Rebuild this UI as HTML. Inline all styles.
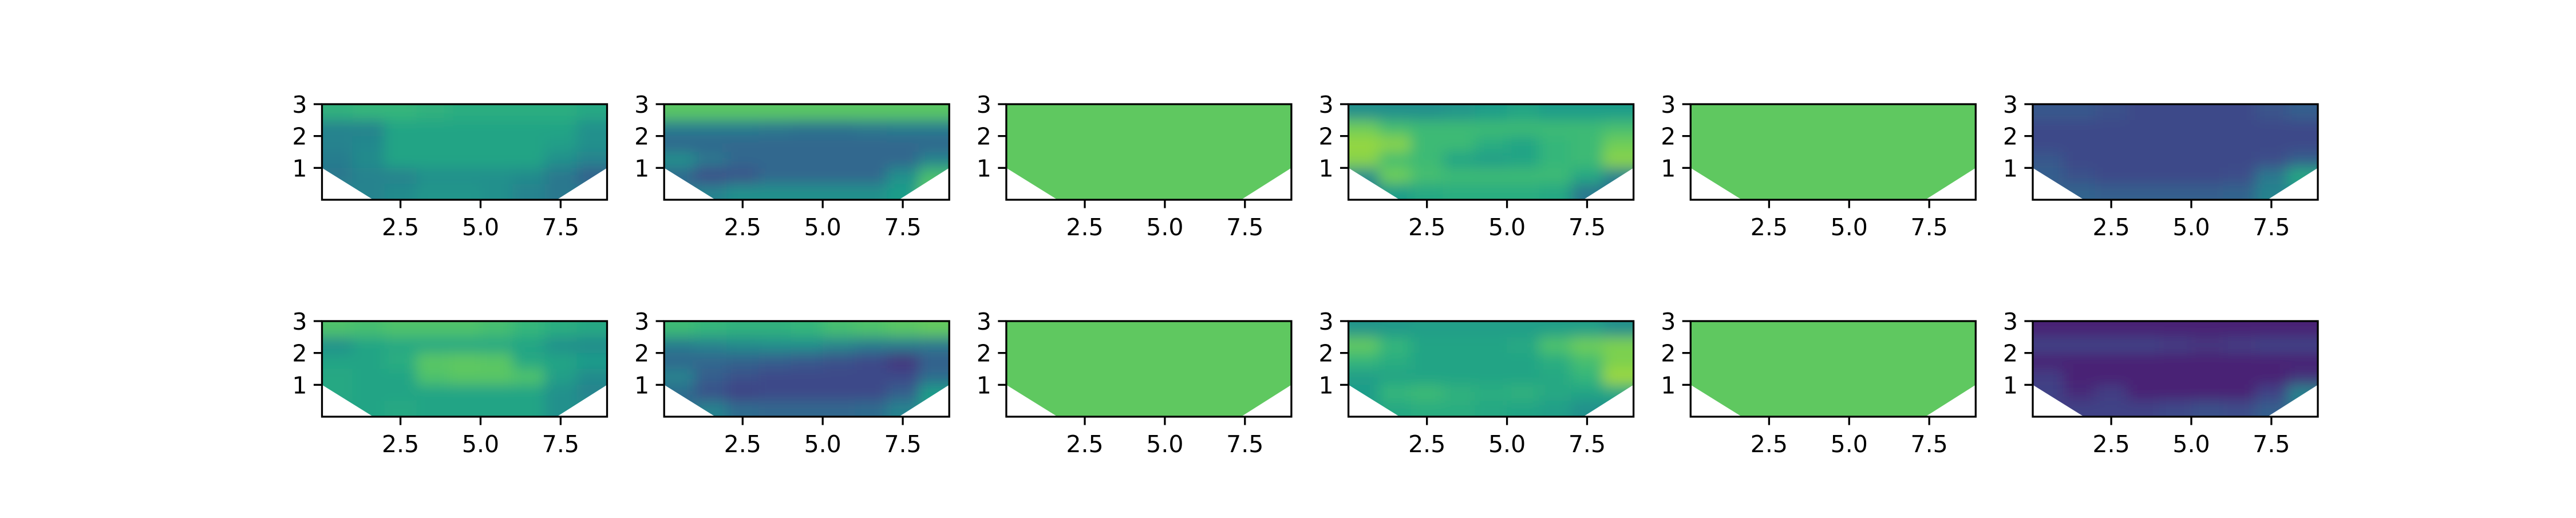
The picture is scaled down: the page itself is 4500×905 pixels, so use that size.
<!DOCTYPE html>
<html><head><meta charset="utf-8"><style>
html,body{margin:0;padding:0;background:#fff;}
svg text{font-family:"DejaVu Sans","Liberation Sans",sans-serif;font-size:41px;fill:#000;}
</style></head><body>
<svg id="fig" width="4500" height="900" xmlns="http://www.w3.org/2000/svg">
<defs><filter id="blur" x="-10%" y="-20%" width="120%" height="140%"><feGaussianBlur stdDeviation="12"/></filter></defs>
</svg>
<script>
// data: per-panel grids, rows top (y=3) to bottom (y=0), 9 cols from x=0 to x=9; values 0..1 on viridis
const xTicks = [2.5, 5.0, 7.5];
const xTickLabels = ["2.5", "5.0", "7.5"];
const yTicks = [1, 2, 3];
const yTickLabels = ["1", "2", "3"];
const xDomain = [0.05, 8.95];
const yDomain = [0, 3];
const boundaryX = [0.05, 1.65, 7.38, 8.95];
const boundaryY = [1, 0, 0, 1];
const panel1 = [
[0.64,0.66,0.66,0.64,0.62,0.62,0.62,0.62,0.6],
[0.45,0.45,0.58,0.58,0.58,0.58,0.58,0.58,0.5],
[0.45,0.47,0.58,0.58,0.58,0.58,0.58,0.56,0.5],
[0.42,0.48,0.58,0.58,0.58,0.58,0.58,0.5,0.45],
[0.4,0.45,0.45,0.5,0.5,0.5,0.48,0.4,0.3],
[0.45,0.45,0.48,0.52,0.52,0.5,0.45,0.4,0.4]];
const panel2 = [
[0.74,0.74,0.74,0.74,0.74,0.74,0.74,0.74,0.74],
[0.42,0.42,0.42,0.4,0.38,0.38,0.4,0.42,0.42],
[0.33,0.33,0.33,0.33,0.33,0.33,0.33,0.33,0.33],
[0.5,0.4,0.33,0.33,0.33,0.33,0.33,0.33,0.45],
[0.33,0.24,0.26,0.33,0.33,0.33,0.33,0.5,0.7],
[0.4,0.45,0.5,0.5,0.5,0.5,0.5,0.55,0.75]];
const panel3 = [
[0.75,0.75,0.75,0.75,0.75,0.75,0.75,0.75,0.75],
[0.75,0.75,0.75,0.75,0.75,0.75,0.75,0.75,0.75],
[0.75,0.75,0.75,0.75,0.75,0.75,0.75,0.75,0.75],
[0.75,0.75,0.75,0.75,0.75,0.75,0.75,0.75,0.75],
[0.75,0.75,0.75,0.75,0.75,0.75,0.75,0.75,0.75],
[0.75,0.75,0.75,0.75,0.75,0.75,0.75,0.75,0.75]];
const panel4 = [
[0.5,0.5,0.5,0.52,0.55,0.58,0.55,0.55,0.55],
[0.78,0.7,0.68,0.68,0.68,0.68,0.68,0.68,0.7],
[0.84,0.82,0.68,0.68,0.62,0.58,0.66,0.68,0.78],
[0.82,0.7,0.68,0.58,0.56,0.58,0.66,0.68,0.82],
[0.5,0.78,0.7,0.68,0.68,0.68,0.68,0.6,0.45],
[0.4,0.55,0.6,0.62,0.62,0.62,0.6,0.4,0.35]];
const panel5 = panel3;
const panel6 = [
[0.28,0.28,0.25,0.22,0.22,0.22,0.22,0.26,0.3],
[0.22,0.22,0.22,0.22,0.22,0.22,0.22,0.22,0.22],
[0.22,0.22,0.22,0.22,0.22,0.22,0.22,0.22,0.22],
[0.28,0.22,0.22,0.22,0.22,0.22,0.22,0.24,0.3],
[0.3,0.25,0.22,0.22,0.22,0.22,0.24,0.4,0.6],
[0.3,0.32,0.3,0.3,0.3,0.3,0.32,0.45,0.5]];
const panel7 = [
[0.72,0.7,0.72,0.72,0.72,0.7,0.66,0.62,0.6],
[0.5,0.58,0.6,0.6,0.6,0.6,0.58,0.5,0.48],
[0.58,0.58,0.62,0.74,0.75,0.74,0.6,0.58,0.55],
[0.6,0.58,0.58,0.72,0.74,0.74,0.72,0.56,0.48],
[0.6,0.58,0.58,0.58,0.58,0.58,0.58,0.5,0.45],
[0.58,0.58,0.6,0.58,0.58,0.58,0.58,0.5,0.5]];
const panel8 = [
[0.68,0.66,0.64,0.64,0.66,0.7,0.72,0.74,0.76],
[0.42,0.45,0.48,0.5,0.5,0.46,0.42,0.42,0.4],
[0.33,0.33,0.32,0.3,0.28,0.25,0.22,0.15,0.3],
[0.45,0.3,0.25,0.22,0.22,0.22,0.22,0.22,0.35],
[0.35,0.25,0.2,0.22,0.22,0.22,0.22,0.3,0.55],
[0.35,0.45,0.35,0.33,0.33,0.33,0.35,0.45,0.55]];
const panel9 = panel3;
const panel10 = [
[0.52,0.54,0.56,0.56,0.56,0.56,0.56,0.56,0.5],
[0.76,0.66,0.58,0.58,0.58,0.6,0.72,0.78,0.8],
[0.66,0.62,0.58,0.58,0.58,0.58,0.62,0.7,0.8],
[0.56,0.58,0.58,0.58,0.58,0.58,0.6,0.66,0.85],
[0.55,0.66,0.68,0.64,0.62,0.64,0.6,0.58,0.6],
[0.55,0.6,0.62,0.62,0.6,0.58,0.56,0.5,0.5]];
const panel11 = panel3;
const panel12 = [
[0.1,0.1,0.1,0.1,0.1,0.1,0.1,0.1,0.1],
[0.2,0.2,0.2,0.2,0.18,0.16,0.18,0.2,0.2],
[0.1,0.1,0.1,0.1,0.1,0.1,0.1,0.1,0.1],
[0.18,0.1,0.1,0.1,0.1,0.1,0.1,0.1,0.14],
[0.2,0.12,0.18,0.1,0.1,0.1,0.1,0.2,0.45],
[0.2,0.2,0.2,0.2,0.22,0.25,0.24,0.3,0.4]];
const panels = [panel1,panel2,panel3,panel4,panel5,panel6,panel7,panel8,panel9,panel10,panel11,panel12];

const VIR = [[68,1,84],[72,40,120],[62,73,137],[49,104,142],[38,130,142],[31,158,137],[53,183,121],[109,205,89],[180,222,44],[253,231,37]];
function viridis(v){
  v=Math.max(0,Math.min(1,v));
  const p=v*(VIR.length-1), i=Math.min(VIR.length-2,Math.floor(p)), f=p-i;
  const c=VIR[i].map((a,k)=>Math.round(a+(VIR[i+1][k]-a)*f));
  return `rgb(${c[0]},${c[1]},${c[2]})`;
}
const NS="http://www.w3.org/2000/svg";
const svg=document.getElementById('fig');
function mk(tag,attrs,parent){const e=document.createElementNS(NS,tag);for(const k in attrs)e.setAttribute(k,attrs[k]);parent.appendChild(e);return e;}
const W=498, lefts=[562.5,1160.2,1757.9,2355.6,2953.3,3551], tops=[182,561], H=167;

panels.forEach((grid,pi)=>{
  const L=lefts[pi%6], T=tops[Math.floor(pi/6)];
  const sx=x=>L+(x-xDomain[0])/(xDomain[1]-xDomain[0])*W;
  const sy=y=>T+H-(y-yDomain[0])/(yDomain[1]-yDomain[0])*H;
  const g=mk('g',{},svg);
  
  
  const cid='clip'+pi;
  const cp=mk('clipPath',{id:cid},g);
  const pts=[[sx(xDomain[0]),sy(3)],[sx(xDomain[1]),sy(3)]];
  for(let k=boundaryX.length-1;k>=0;k--) pts.push([sx(boundaryX[k]),sy(boundaryY[k])]);
  mk('polygon',{points:pts.map(p=>p.join(',')).join(' ')},cp);
  const clipG=mk('g',{'clip-path':`url(#${cid})`},g);
  const blurG=mk('g',{filter:'url(#blur)'},clipG);
  const rows=grid.length, cols=grid[0].length;
  grid.forEach((row,r)=>row.forEach((v,c)=>{
    const x0=c*9/cols, x1=(c+1)*9/cols, y1=3-r*3/rows, y0=3-(r+1)*3/rows;
    let px0=sx(x0), px1=sx(x1), py0=sy(y1), py1=sy(y0);
    if(c===0)px0-=40; if(c===cols-1)px1+=40; if(r===0)py0-=40; if(r===rows-1)py1+=40;
    const cell=mk('rect',{x:px0,y:py0,width:px1-px0+1,height:py1-py0+1,fill:viridis(v)},blurG);
    
    
  }));
  const frame=mk('rect',{x:L,y:T,width:W,height:H,fill:'none',stroke:'#000','stroke-width':3.3},g);
  
  
  xTicks.forEach((t,i)=>{
    const x=sx(t);
    const tk=mk('line',{x1:x,y1:T+H,x2:x,y2:T+H+14.6,stroke:'#000','stroke-width':3.3},g);
    
    
    const tx=mk('text',{x:x,y:T+H+62,'text-anchor':'middle'},g);
    tx.textContent=xTickLabels[i];
    
    
  });
  yTicks.forEach((t,i)=>{
    const y=sy(t);
    const tk=mk('line',{x1:L-14.6,y1:y,x2:L,y2:y,stroke:'#000','stroke-width':3.3},g);
    
    
    const tx=mk('text',{x:L-26,y:y+15,'text-anchor':'end'},g);
    tx.textContent=yTickLabels[i];
    
    
  });
});
</script>
</body></html>
